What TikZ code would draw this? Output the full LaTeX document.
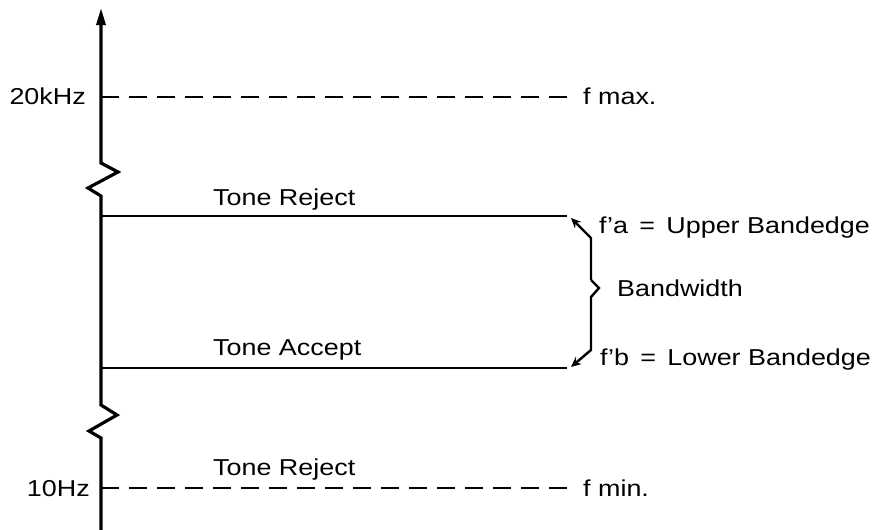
\documentclass[tikz,border=0pt]{standalone}
\usepackage{fontspec}
\setmainfont{Liberation Sans}[FakeStretch=1.17]
\usetikzlibrary{arrows.meta}
\begin{document}
\begin{tikzpicture}[x=1pt,y=-1pt,
  lbl/.style={inner sep=0pt,anchor=base west,font=\fontsize{23}{27}\selectfont},
  axisline/.style={line width=3.2pt,line join=miter},
  levelline/.style={line width=2.8pt},
  dashline/.style={line width=2.3pt,dash pattern=on 18pt off 10pt},
  braceline/.style={line width=2.4pt,line join=miter},
  tip/.style={-{Stealth[length=10pt,width=9pt]}}]
\useasboundingbox (0,0) rectangle (881,530);
\fill[white] (0,0) rectangle (881,530);
% coordinates
\coordinate (bot) at (101,530);
\coordinate (top) at (101,8);
\coordinate (a20) at (101,97);
\coordinate (e20) at (568,97);
\coordinate (aR) at (101,216);
\coordinate (eR) at (567,216);
\coordinate (aA) at (101,368);
\coordinate (eA) at (567,368);
\coordinate (a10) at (101,488);
\coordinate (e10) at (568,488);
\coordinate (tipU) at (571,218);
\coordinate (tipL) at (571,367);
% axis
\draw[axisline,-{Triangle[length=17pt,width=9pt]}] (bot) -- (101,438) -- (89,431) -- (117,415) -- (101,405)
  -- (101,196) -- (88,188) -- (118,172) -- (101,163) -- (top);
% level lines
\draw[dashline] (a20) -- (e20);
\draw[dashline] (a10) -- (e10);
\draw[levelline] (aR) -- (eR);
\draw[levelline] (aA) -- (eA);
% labels
\node[lbl,anchor=base east] (l20) at (86,104) {20kHz};
\node[lbl,anchor=base east] (l10) at (90,496) {10Hz};
\node[lbl] (fmax) at (583,104) {f max.};
\node[lbl] (fmin) at (583,496) {f min.};
\node[lbl] (tr1) at (213,205) {Tone Reject};
\node[lbl] (ta) at (213,355) {Tone Accept};
\node[lbl] (tr2) at (213,475) {Tone Reject};
\node[lbl] (fa) at (599,233) {f’a \,=\, Upper Bandedge};
\node[lbl] (fb) at (600,365) {f’b \,=\, Lower Bandedge};
\node[lbl] (bw) at (617,296) {Bandwidth};
% brace arrows
\draw[braceline,tip] (591,280) -- (591,238) -- (tipU);
\draw[braceline,tip] (591,280) -- (599,288) -- (591,297) -- (591,350) -- (tipL);
\end{tikzpicture}
\end{document}
